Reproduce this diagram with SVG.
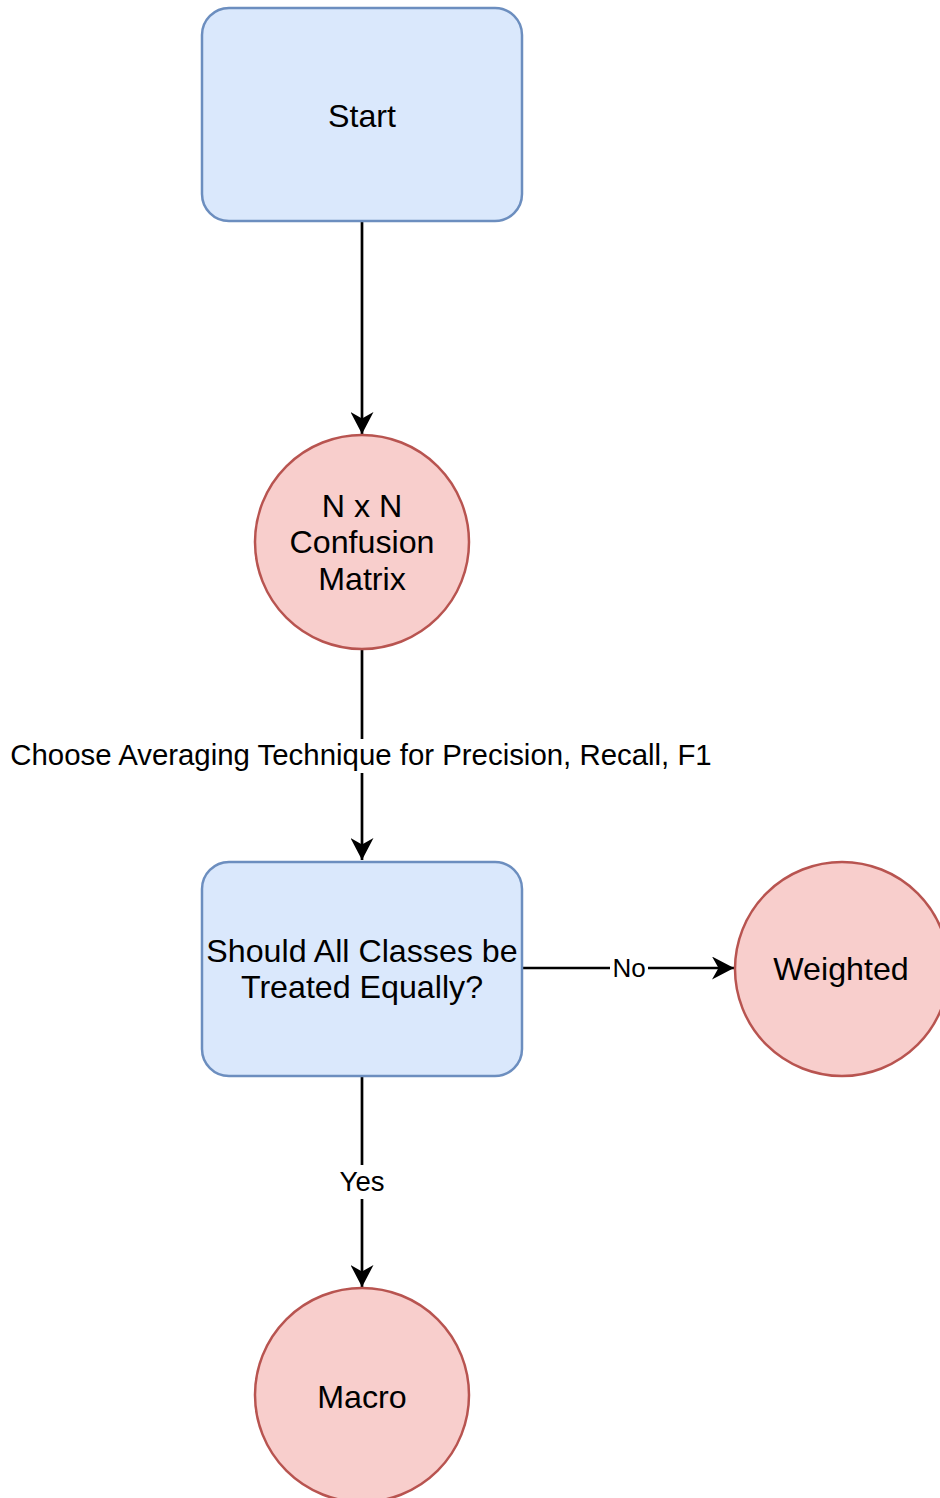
<svg xmlns="http://www.w3.org/2000/svg" width="940" height="1498" viewBox="0 0 940 1498">
  <defs>
    <style>
      .box { fill: #dae8fc; stroke: #6c8ebf; stroke-width: 2.5; }
      .disc { fill: #f8cecc; stroke: #b85450; stroke-width: 2.5; }
      .node-text { font-family: "Liberation Sans", Arial, Helvetica, sans-serif; font-size: 32.2px; fill: #000; text-anchor: middle; }
      .edge-text { font-family: "Liberation Sans", Arial, Helvetica, sans-serif; fill: #000; text-anchor: middle; }
      .edge { fill: none; stroke: #000; stroke-width: 2.7; }
      .label-bg { fill: #fff; }
    </style>
    <marker id="arrow" viewBox="0 0 23 23" refX="22" refY="11.5" markerUnits="userSpaceOnUse" markerWidth="23" markerHeight="23" orient="auto">
      <path d="M22 11.5 L0 0 L6.5 11.5 L0 23 Z" fill="#000"/>
    </marker>
  </defs>

  <rect width="940" height="1498" fill="#fff"/>

  <!-- connectors -->
  <g id="connectors">
    <path class="edge" d="M362 221 L362 434" marker-end="url(#arrow)"/>
    <path class="edge" d="M362 649 L362 860" marker-end="url(#arrow)"/>
    <rect class="label-bg" x="8" y="739" width="708" height="34"/>
    <text class="edge-text" x="361" y="765" font-size="29.4">Choose Averaging Technique for Precision, Recall, F1</text>
    <path class="edge" d="M523 968 L734 968" marker-end="url(#arrow)"/>
    <rect class="label-bg" x="610" y="955" width="38" height="26"/>
    <text class="edge-text" x="629" y="977" font-size="26">No</text>
    <path class="edge" d="M362 1076 L362 1287" marker-end="url(#arrow)"/>
    <rect class="label-bg" x="335" y="1165" width="54" height="34"/>
    <text class="edge-text" x="362" y="1191" font-size="27.5">Yes</text>
  </g>

  <!-- nodes -->
  <g id="start">
    <rect class="box" x="202" y="8" width="320" height="213" rx="27" ry="27"/>
    <text class="node-text" x="362" y="127">Start</text>
  </g>

  <g id="confusion-matrix">
    <circle class="disc" cx="362" cy="542" r="107"/>
    <text class="node-text" x="362" y="517">N x N</text>
    <text class="node-text" x="362" y="553">Confusion</text>
    <text class="node-text" x="362" y="590">Matrix</text>
  </g>

  <g id="decision">
    <rect class="box" x="202" y="862" width="320" height="214" rx="27" ry="27"/>
    <text class="node-text" x="362" y="962">Should All Classes be</text>
    <text class="node-text" x="362" y="998">Treated Equally?</text>
  </g>

  <g id="weighted">
    <circle class="disc" cx="842" cy="969" r="107"/>
    <text class="node-text" x="841" y="980">Weighted</text>
  </g>

  <g id="macro">
    <circle class="disc" cx="362" cy="1395" r="107"/>
    <text class="node-text" x="362" y="1408">Macro</text>
  </g>
</svg>
